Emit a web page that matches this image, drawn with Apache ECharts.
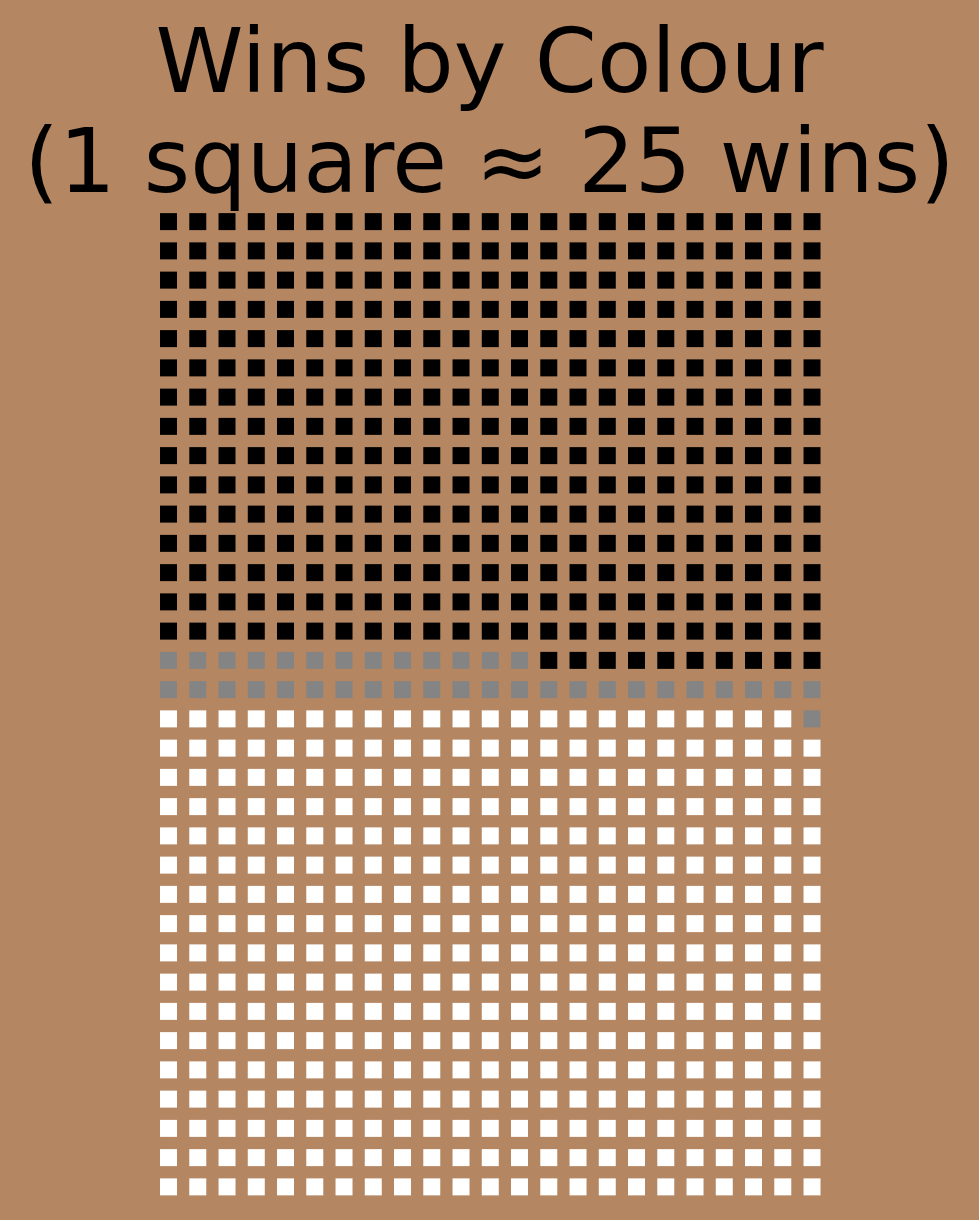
<!DOCTYPE html>
<html>
<head>
<meta charset="utf-8">
<script src="https://cdn.jsdelivr.net/npm/echarts@6/dist/echarts.min.js"></script>
<style>
html,body{margin:0;padding:0;background:#b58662;}
#chart{width:979px;height:1220px;}
</style>
</head>
<body>
<div id="chart"></div>
<script>
// Data
var outcomes = ['White', 'Draw', 'Black'];
var squares = [390, 37, 355];          // 1 square ≈ 25 wins
var winsPerSquare = 25;
var columns = 23;
var rows = 34;
var colours = ['#ffffff', '#848484', '#000000'];

var xCats = [];
for (var c = 0; c < columns; c++) xCats.push(String(c));
var yCats = [];
for (var r = 0; r < rows; r++) yCats.push(String(r));

var series = [];
var idx = 0;
for (var s = 0; s < outcomes.length; s++) {
  var pts = [];
  for (var k = 0; k < squares[s]; k++) {
    pts.push([idx % columns, Math.floor(idx / columns)]);
    idx++;
  }
  series.push({
    name: outcomes[s],
    type: 'scatter',
    symbol: 'rect',
    symbolSize: 17,
    itemStyle: { color: colours[s], opacity: 1 },
    data: pts,
    silent: true
  });
}

var chart = echarts.init(document.getElementById('chart'), null, { renderer: 'canvas' });
chart.setOption({
  backgroundColor: '#b58662',
  animation: false,
  title: {
    text: 'Wins by Colour\n(1 square \u2248 ' + winsPerSquare + ' wins)',
    left: 'center',
    top: 14,
    textStyle: {
      fontFamily: 'DejaVu Sans',
      fontSize: 89,
      fontWeight: 'normal',
      lineHeight: 100,
      color: '#000000',
      align: 'center'
    }
  },
  grid: { left: 153.9, width: 672.75, top: 207, height: 994.5 },
  xAxis: {
    type: 'category', data: xCats, boundaryGap: true,
    axisLine: { show: false }, axisTick: { show: false }, axisLabel: { show: false }, splitLine: { show: false }
  },
  yAxis: {
    type: 'category', data: yCats, boundaryGap: true,
    axisLine: { show: false }, axisTick: { show: false }, axisLabel: { show: false }, splitLine: { show: false }
  },
  series: series
});
</script>
</body>
</html>
